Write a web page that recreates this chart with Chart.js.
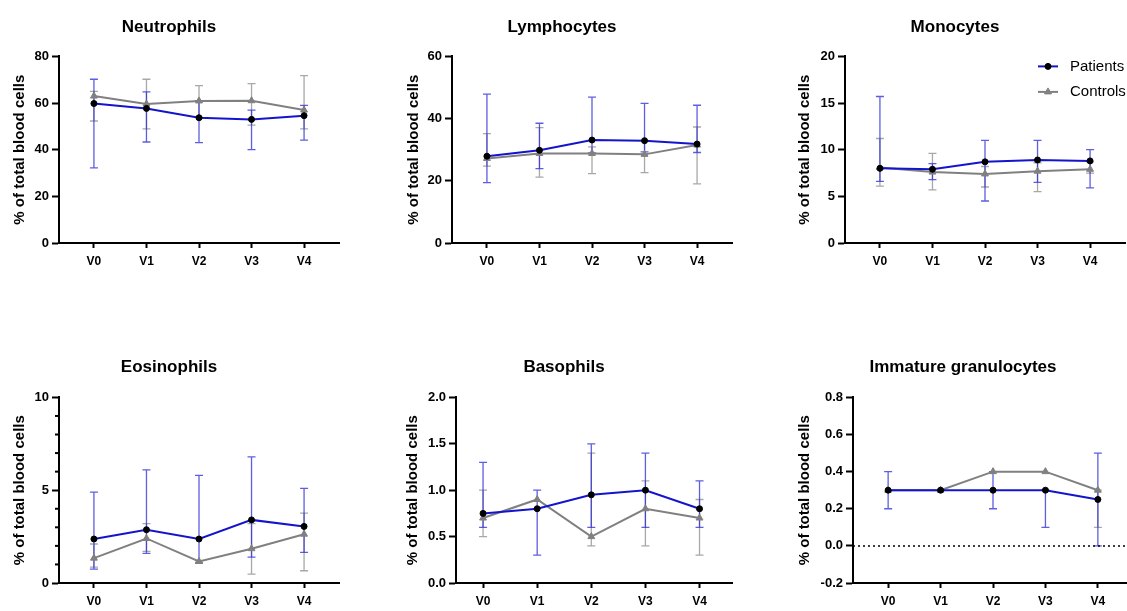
<!DOCTYPE html>
<html>
<head>
<meta charset="utf-8">
<script src="https://cdn.jsdelivr.net/npm/chart.js@4"></script>
<style>
  html, body { margin: 0; padding: 0; background: #fff; width: 1127px; height: 611px; overflow: hidden; }
  canvas { position: absolute; }
</style>
</head>
<body>
<canvas id="neu"></canvas>
<canvas id="lym"></canvas>
<canvas id="mono"></canvas>
<canvas id="eos"></canvas>
<canvas id="baso"></canvas>
<canvas id="ig"></canvas>
<script>
// ---- data ----
const visits = ["V0", "V1", "V2", "V3", "V4"];

const neuPatients = [59.8, 57.7, 53.7, 53.0, 54.6];
const neuPatientsLow = [32.2, 43.3, 43.0, 40.0, 44.1];
const neuPatientsHigh = [70.2, 64.8, 61.0, 57.0, 59.0];
const neuControls = [63.0, 59.6, 60.9, 61.0, 57.0];
const neuControlsLow = [52.3, 48.9, 54.0, 50.5, 48.9];
const neuControlsHigh = [65.0, 70.2, 67.5, 68.3, 71.8];

const lymPatients = [27.9, 29.8, 33.1, 32.9, 31.8];
const lymPatientsLow = [19.4, 23.9, 29.0, 29.3, 29.1];
const lymPatientsHigh = [47.9, 38.5, 46.9, 44.9, 44.3];
const lymControls = [27.2, 28.8, 28.8, 28.5, 31.5];
const lymControlsLow = [24.7, 21.2, 22.3, 22.6, 19.0];
const lymControlsHigh = [35.2, 37.1, 30.9, 33.0, 37.3];

const monoPatients = [8.0, 7.9, 8.7, 8.9, 8.8];
const monoPatientsLow = [6.6, 6.8, 4.5, 6.5, 5.9];
const monoPatientsHigh = [15.7, 8.5, 11.0, 11.0, 10.0];
const monoControls = [8.1, 7.6, 7.4, 7.7, 7.9];
const monoControlsLow = [6.1, 5.7, 6.0, 5.5, 7.5];
const monoControlsHigh = [11.2, 9.6, 8.2, 8.6, 8.7];

const eosPatients = [2.37, 2.87, 2.37, 3.4, 3.05];
const eosPatientsLow = [0.75, 1.6, 1.07, 1.39, 1.65];
const eosPatientsHigh = [4.9, 6.1, 5.8, 6.8, 5.1];
const eosControls = [1.34, 2.4, 1.16, 1.85, 2.63];
const eosControlsLow = [0.86, 1.7, 1.07, 0.48, 0.66];
const eosControlsHigh = [2.1, 3.2, 1.2, 3.2, 3.76];

const basoPatients = [0.75, 0.8, 0.95, 1.0, 0.8];
const basoPatientsLow = [0.6, 0.3, 0.6, 0.6, 0.6];
const basoPatientsHigh = [1.3, 1.0, 1.5, 1.4, 1.1];
const basoControls = [0.7, 0.9, 0.5, 0.8, 0.7];
const basoControlsLow = [0.5, 0.9, 0.4, 0.4, 0.3];
const basoControlsHigh = [1.0, 0.9, 1.4, 1.1, 0.9];

const igPatients = [0.3, 0.3, 0.3, 0.3, 0.25];
const igPatientsLow = [0.2, 0.3, 0.2, 0.1, 0.0];
const igPatientsHigh = [0.4, 0.3, 0.4, 0.3, 0.5];
const igControls = [0.3, 0.3, 0.4, 0.4, 0.3];
const igControlsLow = [0.3, 0.3, 0.4, 0.4, 0.1];
const igControlsHigh = [0.3, 0.3, 0.4, 0.4, 0.3];

// tick values and labels
const neuTicks = [0, 20, 40, 60, 80];
const neuTickLabels = ["0", "20", "40", "60", "80"];
const lymTicks = [0, 20, 40, 60];
const lymTickLabels = ["0", "20", "40", "60"];
const monoTicks = [0, 5, 10, 15, 20];
const monoTickLabels = ["0", "5", "10", "15", "20"];
const eosTicks = [0, 5, 10];
const eosTickLabels = ["0", "5", "10"];
const eosMinorTicks = [1, 2, 3, 4, 6, 7, 8, 9];
const basoTicks = [0, 0.5, 1.0, 1.5, 2.0];
const basoTickLabels = ["0.0", "0.5", "1.0", "1.5", "2.0"];
const igTicks = [-0.2, 0, 0.2, 0.4, 0.6, 0.8];
const igTickLabels = ["-0.2", "0.0", "0.2", "0.4", "0.6", "0.8"];

const seriesNames = ["Patients", "Controls"];

// ---- styling ----
const BLUE = "#1414cc";
const BLUE_ERR = "rgba(40, 40, 215, 0.75)";
const GREY = "#808080";
const GREY_ERR = "#a8a8a8";
Chart.defaults.font.family = "'Liberation Sans', Arial, sans-serif";
Chart.defaults.color = "#000";

// error bars drawn under the lines, controls first
const errorBars = {
  id: "errorBars",
  beforeDatasetsDraw(chart) {
    const { ctx, scales: { x, y } } = chart;
    const sets = chart.data.datasets.slice().reverse();
    sets.forEach(function (ds) {
      ctx.save();
      ctx.strokeStyle = ds.errorColor;
      ctx.lineWidth = 1.3;
      ds.errLow.forEach(function (lo, i) {
        const hi = ds.errHigh[i];
        if (lo === hi) return;
        const px = x.getPixelForValue(i);
        const y1 = y.getPixelForValue(lo);
        const y2 = y.getPixelForValue(hi);
        ctx.beginPath();
        ctx.moveTo(px, y1); ctx.lineTo(px, y2);
        ctx.moveTo(px - 4, y1); ctx.lineTo(px + 4, y1);
        ctx.moveTo(px - 4, y2); ctx.lineTo(px + 4, y2);
        ctx.stroke();
      });
      ctx.restore();
    });
  },
};

// dotted reference line at zero
const zeroLine = {
  id: "zeroLine",
  beforeDatasetsDraw(chart, args, opts) {
    if (!opts.show) return;
    const { ctx, chartArea, scales: { y } } = chart;
    const py = y.getPixelForValue(0);
    ctx.save();
    ctx.strokeStyle = "#000";
    ctx.lineWidth = 1.5;
    ctx.setLineDash([2, 3]);
    ctx.beginPath();
    ctx.moveTo(chartArea.left, py);
    ctx.lineTo(chartArea.right, py);
    ctx.stroke();
    ctx.restore();
  },
};

// short minor ticks on the y axis
const minorTicks = {
  id: "minorTicks",
  afterDraw(chart, args, opts) {
    if (!opts.values) return;
    const { ctx, chartArea, scales: { y } } = chart;
    ctx.save();
    ctx.strokeStyle = "#000";
    ctx.lineWidth = 2;
    opts.values.forEach(function (v) {
      const py = y.getPixelForValue(v);
      ctx.beginPath();
      ctx.moveTo(chartArea.left - 4, py);
      ctx.lineTo(chartArea.left, py);
      ctx.stroke();
    });
    ctx.restore();
  },
};

// legend with line + marker, inside the plot at top right
const seriesLegend = {
  id: "seriesLegend",
  afterDraw(chart, args, opts) {
    if (!opts.show) return;
    const { ctx, chartArea } = chart;
    chart.data.datasets.forEach(function (ds, k) {
      const yy = chartArea.top + 10 + k * 25.5;
      const x0 = chartArea.right - 87;
      ctx.save();
      ctx.strokeStyle = ds.borderColor;
      ctx.lineWidth = 2;
      ctx.beginPath();
      ctx.moveTo(x0, yy);
      ctx.lineTo(x0 + 20, yy);
      ctx.stroke();
      ctx.fillStyle = ds.pointBackgroundColor;
      ctx.strokeStyle = ds.pointBorderColor;
      ctx.lineWidth = 1;
      Chart.helpers.drawPoint(ctx, { pointStyle: ds.pointStyle, radius: ds.pointRadius, rotation: 0, borderWidth: 1 }, x0 + 10, yy);
      ctx.fillStyle = "#000";
      ctx.font = "15px 'Liberation Sans', Arial, sans-serif";
      ctx.textBaseline = "middle";
      ctx.textAlign = "left";
      ctx.fillText(ds.label, x0 + 32, yy);
      ctx.restore();
    });
  },
};

function toPoints(values) {
  return values.map(function (v, i) { return { x: i, y: v }; });
}

const panels = [
  { id: "neu", title: "Neutrophils", row: 0, axisX: 59, right: 339, xMin: -0.665, xMax: 4.665, gap: 39,
    yMin: 0, yMax: 80, ticks: neuTicks, labels: neuTickLabels,
    p: neuPatients, pLo: neuPatientsLow, pHi: neuPatientsHigh, c: neuControls, cLo: neuControlsLow, cHi: neuControlsHigh },
  { id: "lym", title: "Lymphocytes", row: 0, axisX: 452, right: 732, xMin: -0.665, xMax: 4.665, gap: 38,
    yMin: 0, yMax: 60, ticks: lymTicks, labels: lymTickLabels,
    p: lymPatients, pLo: lymPatientsLow, pHi: lymPatientsHigh, c: lymControls, cLo: lymControlsLow, cHi: lymControlsHigh },
  { id: "mono", title: "Monocytes", row: 0, axisX: 845, right: 1125, xMin: -0.665, xMax: 4.665, gap: 40, legend: true,
    yMin: 0, yMax: 20, ticks: monoTicks, labels: monoTickLabels,
    p: monoPatients, pLo: monoPatientsLow, pHi: monoPatientsHigh, c: monoControls, cLo: monoControlsLow, cHi: monoControlsHigh },
  { id: "eos", title: "Eosinophils", row: 1, axisX: 59, right: 339, xMin: -0.665, xMax: 4.665, gap: 39, minor: eosMinorTicks,
    yMin: 0, yMax: 10, ticks: eosTicks, labels: eosTickLabels,
    p: eosPatients, pLo: eosPatientsLow, pHi: eosPatientsHigh, c: eosControls, cLo: eosControlsLow, cHi: eosControlsHigh },
  { id: "baso", title: "Basophils", row: 1, axisX: 456, right: 732, xMin: -0.5, xMax: 4.6, gap: 43,
    yMin: 0, yMax: 2, ticks: basoTicks, labels: basoTickLabels,
    p: basoPatients, pLo: basoPatientsLow, pHi: basoPatientsHigh, c: basoControls, cLo: basoControlsLow, cHi: basoControlsHigh },
  { id: "ig", title: "Immature granulocytes", row: 1, axisX: 853, right: 1133, xMin: -0.67, xMax: 4.67, gap: 48, zero: true,
    yMin: -0.2, yMax: 0.8, ticks: igTicks, labels: igTickLabels,
    p: igPatients, pLo: igPatientsLow, pHi: igPatientsHigh, c: igControls, cLo: igControlsLow, cHi: igControlsHigh },
];

const rows = [
  { top: 0, height: 283, titlePad: { top: 17, bottom: 19 } },
  { top: 340, height: 283, titlePad: { top: 17, bottom: 20 } },
];

panels.forEach(function (p) {
  const row = rows[p.row];
  const yW = 60;
  const canvas = document.getElementById(p.id);
  canvas.width = (p.right - p.axisX) + 2 * yW;
  canvas.height = row.height;
  canvas.style.left = (p.axisX - yW) + "px";
  canvas.style.top = row.top + "px";

  new Chart(canvas.getContext("2d"), {
    type: "line",
    data: {
      datasets: [
        {
          label: seriesNames[0],
          data: toPoints(p.p),
          errLow: p.pLo, errHigh: p.pHi, errorColor: BLUE_ERR,
          borderColor: BLUE, borderWidth: 2,
          pointStyle: "circle", pointRadius: 3, pointBorderWidth: 1,
          pointBackgroundColor: "#000", pointBorderColor: "#000",
          tension: 0,
        },
        {
          label: seriesNames[1],
          data: toPoints(p.c),
          errLow: p.cLo, errHigh: p.cHi, errorColor: GREY_ERR,
          borderColor: GREY, borderWidth: 2,
          pointStyle: "triangle", pointRadius: 4, pointBorderWidth: 1,
          pointBackgroundColor: GREY, pointBorderColor: GREY,
          tension: 0,
        },
      ],
    },
    options: {
      responsive: false,
      animation: false,
      layout: { padding: { left: 0, right: yW, top: 0, bottom: 0 } },
      plugins: {
        legend: { display: false },
        tooltip: { enabled: false },
        title: {
          display: true,
          text: p.title,
          color: "#000",
          font: { size: 17, weight: "bold" },
          padding: row.titlePad,
        },
        zeroLine: { show: !!p.zero },
        minorTicks: { values: p.minor || null },
        seriesLegend: { show: !!p.legend },
      },
      scales: {
        x: {
          type: "linear",
          min: p.xMin,
          max: p.xMax,
          afterBuildTicks: function (s) { s.ticks = visits.map(function (v, i) { return { value: i }; }); },
          afterFit: function (s) { s.height = 40; },
          ticks: {
            callback: function (v, i) { return visits[i]; },
            font: { size: 12, weight: "bold" },
            color: "#000",
            padding: 6,
            autoSkip: false,
            maxRotation: 0,
          },
          grid: { drawOnChartArea: false, drawTicks: true, tickLength: 5, tickColor: "#000", tickWidth: 2 },
          border: { color: "#000", width: 2 },
        },
        y: {
          min: p.yMin,
          max: p.yMax,
          afterBuildTicks: function (s) { s.ticks = p.ticks.map(function (v) { return { value: v }; }); },
          afterFit: function (s) { s.width = yW; },
          ticks: {
            callback: function (v, i) { return p.labels[i]; },
            font: { size: 13, weight: "bold" },
            color: "#000",
            padding: 3,
          },
          grid: { drawOnChartArea: false, drawTicks: true, tickLength: 7, tickColor: "#000", tickWidth: 2 },
          border: { color: "#000", width: 2 },
          title: {
            display: true,
            text: "% of total blood cells",
            color: "#000",
            font: { size: 15, weight: "bold" },
            padding: { top: 51 - p.gap, bottom: 0 },
          },
        },
      },
    },
    plugins: [errorBars, zeroLine, minorTicks, seriesLegend],
  });
});
</script>
</body>
</html>
